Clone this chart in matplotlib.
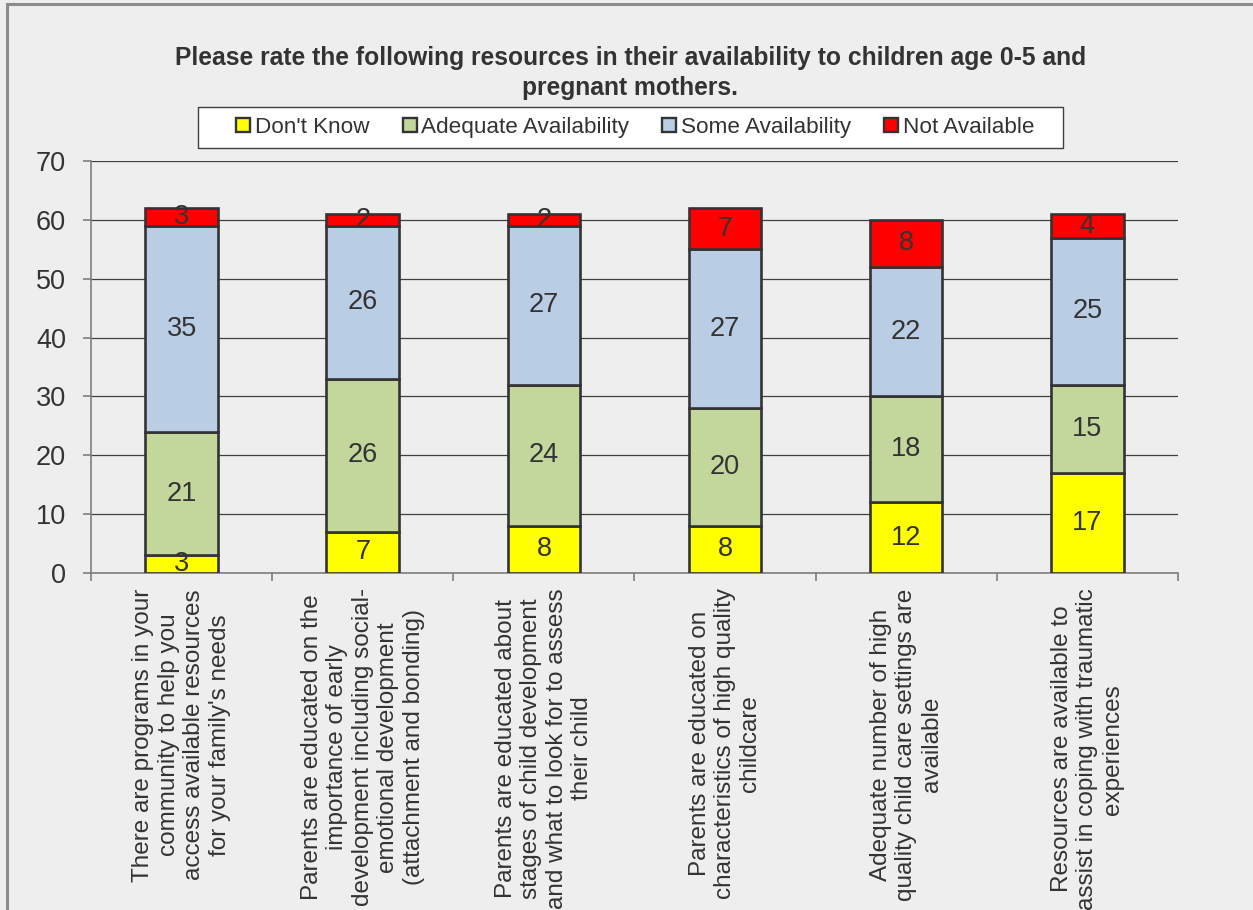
import matplotlib
matplotlib.use("Agg")
import matplotlib.pyplot as plt
import numpy as np
from matplotlib.lines import Line2D
from matplotlib.patches import Rectangle

plt.rcParams["font.family"] = ["Liberation Sans", "DejaVu Sans"]

categories = [
    "There are programs in your\ncommunity to help you\naccess available resources\nfor your family's needs",
    "Parents are educated on the\nimportance of early\ndevelopment including social-\nemotional development\n(attachment and bonding)",
    "Parents are educated about\nstages of child development\nand what to look for to assess\ntheir child",
    "Parents are educated on\ncharacteristics of high quality\nchildcare",
    "Adequate number of high\nquality child care settings are\navailable",
    "Resources are available to\nassist in coping with traumatic\nexperiences",
]
series_names = ["Don't Know", "Adequate Availability", "Some Availability", "Not Available"]
dont_know = [3, 7, 8, 8, 12, 17]
adequate = [21, 26, 24, 20, 18, 15]
some = [35, 26, 27, 27, 22, 25]
not_available = [3, 2, 2, 7, 8, 4]
colors = ["#FFFF00", "#C3D69B", "#B9CDE5", "#FF0000"]

BG = "#EEEEEE"
TXT = "#333333"
EDGE = "#333333"
W, H = 1253, 910

fig = plt.figure(figsize=(W / 100, H / 100), dpi=100, facecolor=BG)
ax = fig.add_axes([0.0726, 0.3703, 0.8675, 0.4528])
ax.set_facecolor(BG)

# chart-area border: only the left and top edges fall inside the image
fig.patches.append(Rectangle((7 / W, -0.1), 1.2, 1 - 4 / H + 0.1, transform=fig.transFigure,
                             fill=False, edgecolor="#8C8C8C", linewidth=2.2, zorder=0))

x = np.arange(len(categories))
bottom = np.zeros(len(categories))
for name, vals, col in zip(series_names, [dont_know, adequate, some, not_available], colors):
    vals = np.array(vals, dtype=float)
    ax.bar(x, vals, 0.4, bottom=bottom, color=col, edgecolor=EDGE, linewidth=1.9, zorder=3, label=name)
    for xi, b, v in zip(x, bottom, vals):
        ax.text(xi, b + v / 2, f"{v:.0f}", ha="center", va="center", fontsize=19.5, color=TXT, zorder=4)
    bottom += vals

ax.set_xlim(-0.5, 5.5)
ax.set_ylim(0, 70)
ax.set_yticks(np.arange(0, 71, 10))
ax.yaxis.grid(True, color="#404040", linewidth=0.9, zorder=0)
ax.set_axisbelow(True)

for s in ["top", "right"]:
    ax.spines[s].set_visible(False)
for s in ["left", "bottom"]:
    ax.spines[s].set_color("#7F7F7F")
    ax.spines[s].set_linewidth(1.2)

ax.tick_params(axis="y", direction="out", length=6, width=1.2, color="#7F7F7F",
               labelsize=19.5, labelcolor=TXT, pad=12)
ax.set_xticks(x)
ax.set_xticklabels(categories, rotation=90, ha="center", va="top", multialignment="center",
                   fontsize=17.5, color=TXT, linespacing=1.2)
ax.tick_params(axis="x", which="major", length=0, pad=11)
ax.set_xticks(np.arange(-0.5, 6, 1), minor=True)
ax.tick_params(axis="x", which="minor", direction="out", length=6, width=1.2, color="#7F7F7F")

fig.text(0.503, 1 - 73 / H, "Please rate the following resources in their availability to children age 0-5 and\npregnant mothers.",
         ha="center", va="center", fontsize=17.7, fontweight="bold", color=TXT, linespacing=1.3)

# legend box
fig.patches.append(Rectangle((198 / W, 1 - 148 / H), 865 / W, 41 / H, transform=fig.transFigure,
                             facecolor="white", edgecolor="#404040", linewidth=1.0, zorder=1))
handles = [Line2D([], [], marker="s", linestyle="none", markersize=9.5, markerfacecolor=c,
                  markeredgecolor=EDGE, markeredgewidth=1.7) for c in colors]
leg = fig.legend(handles, series_names, loc="center left", bbox_to_anchor=(236 / W, 1 - 127.5 / H), ncol=4,
                 fontsize=16.2, frameon=False, handlelength=0.65, handletextpad=0.2,
                 columnspacing=1.45, borderpad=0, borderaxespad=0)
leg.set_zorder(2)
for t in leg.get_texts():
    t.set_color(TXT)

fig.savefig("out.png", dpi=100, facecolor=BG)
